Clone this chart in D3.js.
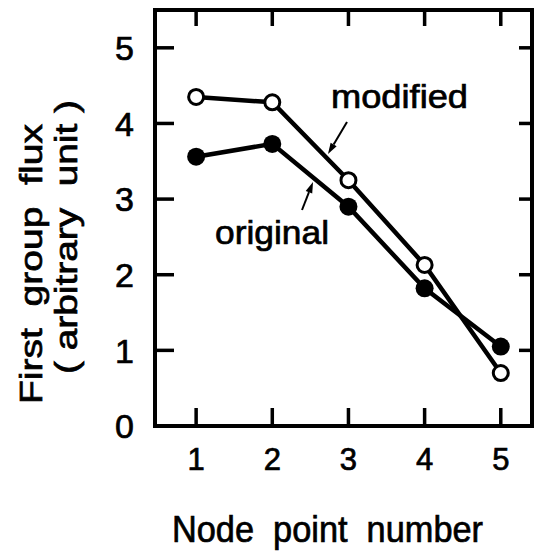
<!DOCTYPE html>
<html>
<head>
<meta charset="utf-8">
<script src="https://cdn.jsdelivr.net/npm/d3@7"></script>
<style>
  html, body { margin: 0; padding: 0; background: #fff; }
  svg { display: block; }
  text.lbl { font-family: "Liberation Sans Narrow", "Liberation Sans", Arial, sans-serif; fill: #000; stroke: #000; stroke-width: 0.7px; }
</style>
</head>
<body>
<svg id="chart" width="534" height="552"></svg>
<script>
// ---- data ----
const nodes = [1, 2, 3, 4, 5];
const modified = [4.35, 4.28, 3.25, 2.13, 0.70];
const original = [3.56, 3.73, 2.90, 1.82, 1.05];
const xTicks = [1, 2, 3, 4, 5];
const yTicks = [0, 1, 2, 3, 4, 5];
const xTitle = "Node  point  number";
const yTitle1 = "First  group  flux";
const yTitle2 = "( arbitrary  unit )";

const svg = d3.select("#chart");
const L = 155, R = 532, T = 10, B = 426;
const x = d3.scaleLinear().domain([0.46, 5.41]).range([L, R]);
const y = d3.scaleLinear().domain([0, 5.5]).range([B, T]);

// inward ticks on all four sides (filled bars)
const tw = 3.5;
const tickG = svg.append("g").attr("fill", "#000");
tickG.selectAll("rect.xb").data(xTicks).join("rect").attr("class", "xb")
  .attr("x", d => x(d) - tw / 2).attr("y", B - 18).attr("width", tw).attr("height", 18);
tickG.selectAll("rect.xt").data(xTicks).join("rect").attr("class", "xt")
  .attr("x", d => x(d) - tw / 2).attr("y", T).attr("width", tw).attr("height", 16);
tickG.selectAll("rect.yl").data(yTicks.slice(1)).join("rect").attr("class", "yl")
  .attr("x", L).attr("y", d => y(d) - tw / 2).attr("width", 19).attr("height", tw);
tickG.selectAll("rect.yr").data(yTicks.slice(1)).join("rect").attr("class", "yr")
  .attr("x", R - 13).attr("y", d => y(d) - tw / 2).attr("width", 13).attr("height", tw);

// frame
svg.append("rect").attr("x", L).attr("y", T).attr("width", R - L).attr("height", B - T)
  .attr("fill", "none").attr("stroke", "#000").attr("stroke-width", 4);

// tick labels
svg.append("g").selectAll("text").data(xTicks).join("text").attr("class", "lbl")
  .attr("x", d => x(d)).attr("y", 470).attr("text-anchor", "middle")
  .attr("font-size", 31).text(d => d);
svg.append("g").selectAll("text").data(yTicks).join("text").attr("class", "lbl")
  .attr("x", 134).attr("y", d => y(d)).attr("dy", "0.36em").attr("text-anchor", "end")
  .attr("font-size", 34).text(d => d);

// axis titles
svg.append("text").attr("class", "lbl").attr("x", 172).attr("y", 542).attr("font-size", 37)
  .attr("textLength", 311).attr("lengthAdjust", "spacingAndGlyphs")
  .style("white-space", "pre").text(xTitle);
svg.append("text").attr("class", "lbl").attr("transform", "translate(42,404) rotate(-90)")
  .attr("font-size", 31).attr("textLength", 280).attr("lengthAdjust", "spacingAndGlyphs")
  .style("white-space", "pre").text(yTitle1);
svg.append("text").attr("class", "lbl").attr("transform", "translate(77,374) rotate(-90)")
  .attr("font-size", 31).attr("textLength", 274).attr("lengthAdjust", "spacingAndGlyphs")
  .style("white-space", "pre").text(yTitle2);

// lines
const line = d3.line().x((d, i) => x(nodes[i])).y(d => y(d));
[original, modified].forEach(s => {
  svg.append("path").datum(s).attr("d", line).attr("fill", "none")
    .attr("stroke", "#000").attr("stroke-width", 4.5);
});
svg.append("g").selectAll("circle").data(original).join("circle")
  .attr("cx", (d, i) => x(nodes[i])).attr("cy", d => y(d)).attr("r", 9).attr("fill", "#000");
svg.append("g").selectAll("circle").data(modified).join("circle")
  .attr("cx", (d, i) => x(nodes[i])).attr("cy", d => y(d)).attr("r", 7.5)
  .attr("fill", "#fff").attr("stroke", "#000").attr("stroke-width", 3);

// labels and arrows
svg.append("text").attr("class", "lbl").attr("x", 331).attr("y", 108).attr("font-size", 33)
  .attr("textLength", 137).attr("lengthAdjust", "spacingAndGlyphs").text("modified");
svg.append("text").attr("class", "lbl").attr("x", 215).attr("y", 244).attr("font-size", 34)
  .attr("textLength", 114).attr("lengthAdjust", "spacingAndGlyphs").text("original");

function arrow(x1, y1, x2, y2) {
  const ang = Math.atan2(y2 - y1, x2 - x1);
  const len = 11, w = 3.5;
  const bx = x2 - len * Math.cos(ang), by = y2 - len * Math.sin(ang);
  svg.append("line").attr("x1", x1).attr("y1", y1).attr("x2", bx).attr("y2", by)
    .attr("stroke", "#000").attr("stroke-width", 2);
  svg.append("path").attr("d",
    `M${x2},${y2}L${bx - w * Math.sin(ang)},${by + w * Math.cos(ang)}L${bx + w * Math.sin(ang)},${by - w * Math.cos(ang)}Z`)
    .attr("fill", "#000");
}
arrow(347, 122, 328, 154);
arrow(302, 210, 313, 182);
</script>
</body>
</html>
